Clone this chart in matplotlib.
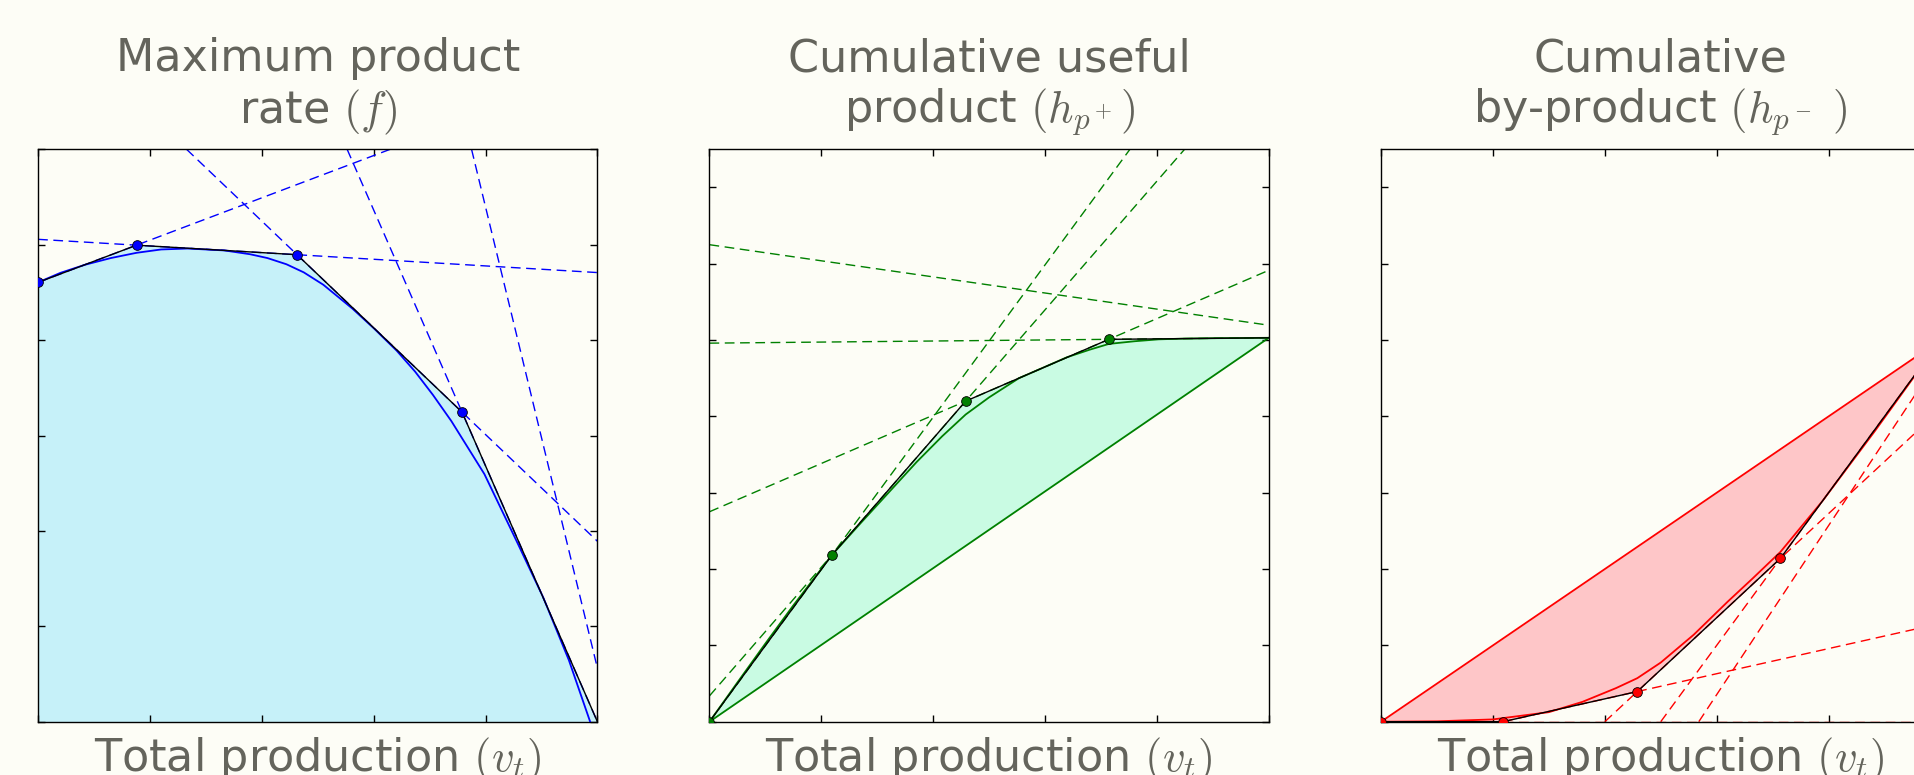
import numpy as np
import matplotlib
matplotlib.use("Agg")
import matplotlib.pyplot as plt

plt.rcParams['mathtext.fontset'] = 'cm'
plt.rcParams['font.family'] = ['DejaVu Sans']

BG = '#fdfdf6'
TXT = '#64645c'

# ---------------- Panel 1: maximum product rate f ----------------
f_title = "Maximum product\nrate $(f)$"
f_curve_x = [0.0, 0.04, 0.084, 0.13, 0.176, 0.22, 0.267, 0.333, 0.379, 0.41, 0.444,
             0.475, 0.51, 0.562, 0.60, 0.641, 0.674, 0.706, 0.739, 0.798, 0.857,
             0.903, 0.949, 0.987]
f_curve_y = [0.921, 0.941, 0.958, 0.972, 0.983, 0.990, 0.992, 0.988, 0.980, 0.972, 0.959,
             0.942, 0.916, 0.866, 0.825, 0.778, 0.734, 0.685, 0.630, 0.519, 0.375,
             0.261, 0.129, 0.0]
f_pts_x = [0.0, 0.176, 0.463, 0.758, 1.0]
f_pts_y = [0.921, 0.999, 0.979, 0.649, 0.0]
f_extra = [(0.775, 1.2), (0.998, 0.122)]
f_ylim = 1.2

# ---------------- Panel 2: cumulative useful product ----------------
hp_title = "Cumulative useful\nproduct $(h_{p^+})$"
hp_curve_x = [0.0, 0.05, 0.10, 0.15, 0.219, 0.27, 0.32, 0.37, 0.416, 0.458, 0.50,
              0.553, 0.60, 0.639, 0.68, 0.714, 0.76, 0.803, 0.85, 0.90, 1.0]
hp_curve_y = [0.0, 0.103, 0.205, 0.305, 0.437, 0.52, 0.60, 0.68, 0.748, 0.805, 0.850,
              0.900, 0.930, 0.955, 0.975, 0.990, 0.997, 1.002, 1.004, 1.005, 1.006]
hp_pts_x = [0.0, 0.219, 0.458, 0.714, 1.0]
hp_pts_y = [0.0, 0.437, 0.840, 1.002, 1.006]
hp_extra = [(0.0, 1.25), (1.0, 1.039)]
hp_ylim = 1.5

# ---------------- Panel 3: cumulative by-product ----------------
hm_title = "Cumulative\nby-product $(h_{p^-}\\ )$"
hm_curve_x = [0.0, 0.1, 0.2, 0.3, 0.36, 0.42, 0.458, 0.50, 0.559, 0.62, 0.664,
              0.714, 0.789, 0.882, 0.955, 1.0]
hm_curve_y = [0.0, 0.001, 0.006, 0.025, 0.052, 0.088, 0.114, 0.155, 0.228, 0.315, 0.375,
              0.445, 0.578, 0.760, 0.908, 1.0]
hm_pts_x = [0.0, 0.218, 0.458, 0.714, 1.0]
hm_pts_y = [0.0, 0.0, 0.079, 0.428, 1.0]
hm_extra = [(0.568, 0.0), (0.941, 0.826)]
hm_ylim = 1.5

xlabel = "Total production $(v_t)$"

panels = [
    dict(title=f_title, cx=f_curve_x, cy=f_curve_y, px=f_pts_x, py=f_pts_y,
         extra=f_extra, ylim=f_ylim, color='#0000ff', fill='#c6f1f9', mode='under'),
    dict(title=hp_title, cx=hp_curve_x, cy=hp_curve_y, px=hp_pts_x, py=hp_pts_y,
         extra=hp_extra, ylim=hp_ylim, color='#008000', fill='#c9fbe3', mode='above_chord'),
    dict(title=hm_title, cx=hm_curve_x, cy=hm_curve_y, px=hm_pts_x, py=hm_pts_y,
         extra=hm_extra, ylim=hm_ylim, color='#ff0000', fill='#fec6c8', mode='below_chord'),
]

W, H = 1915, 775
fig = plt.figure(figsize=(W / 100, H / 100), dpi=100, facecolor=BG)

lefts = [38.1, 709.5, 1381.1]
ax_w, ax_top, ax_bot = 559.3, 149.3, 721.7

for p, lpx in zip(panels, lefts):
    ax = fig.add_axes([lpx / W, (H - ax_bot) / H, ax_w / W, (ax_bot - ax_top) / H])
    ax.set_facecolor(BG)
    c = p['color']
    px = np.array(p['px'])
    py = np.array(p['py'])
    chord = np.interp(px, [px[0], px[-1]], [py[0], py[-1]])
    if p['mode'] == 'under':
        ax.fill_between(px, 0, py, color=p['fill'], lw=0, zorder=1)
    elif p['mode'] == 'above_chord':
        ax.fill_between(px, chord, py, color=p['fill'], lw=0, zorder=1)
        ax.plot([px[0], px[-1]], [py[0], py[-1]], color=c, lw=1.3, zorder=3)
    else:
        ax.fill_between(px, py, chord, color=p['fill'], lw=0, zorder=1)
        ax.plot([px[0], px[-1]], [py[0], py[-1]], color=c, lw=1.3, zorder=3)

    for i in range(len(px) - 1):
        ax.axline((px[i], py[i]), (px[i + 1], py[i + 1]), color=c, lw=1.0,
                  linestyle=(0, (7, 4)), zorder=2)
    ax.axline(p['extra'][0], p['extra'][1], color=c, lw=1.0,
              linestyle=(0, (7, 4)), zorder=2)

    ax.plot(p['cx'], p['cy'], color=c, lw=1.3, zorder=3)
    ax.plot(px, py, color='black', lw=1.0, zorder=4)
    ax.plot(px[:-1], py[:-1], 'o', color=c, mec='black', mew=0.6, ms=7, zorder=5)

    ax.set_xlim(0, 1)
    ax.set_ylim(0, p['ylim'])
    ax.set_xticks(np.arange(0, 1.001, 0.2))
    ax.set_yticks(np.arange(0, p['ylim'] + 0.001, 0.2))
    ax.tick_params(direction='in', top=True, right=True, labelbottom=False,
                   labelleft=False, length=5, width=1, color='black')
    for s in ax.spines.values():
        s.set_linewidth(1.0)
        s.set_color('black')
    ax.set_title(p['title'], fontsize=32, color=TXT, pad=19, linespacing=1.2)
    ax.set_xlabel(xlabel, fontsize=32, color=TXT, labelpad=10)

fig.savefig('out.png', dpi=100, facecolor=BG)
